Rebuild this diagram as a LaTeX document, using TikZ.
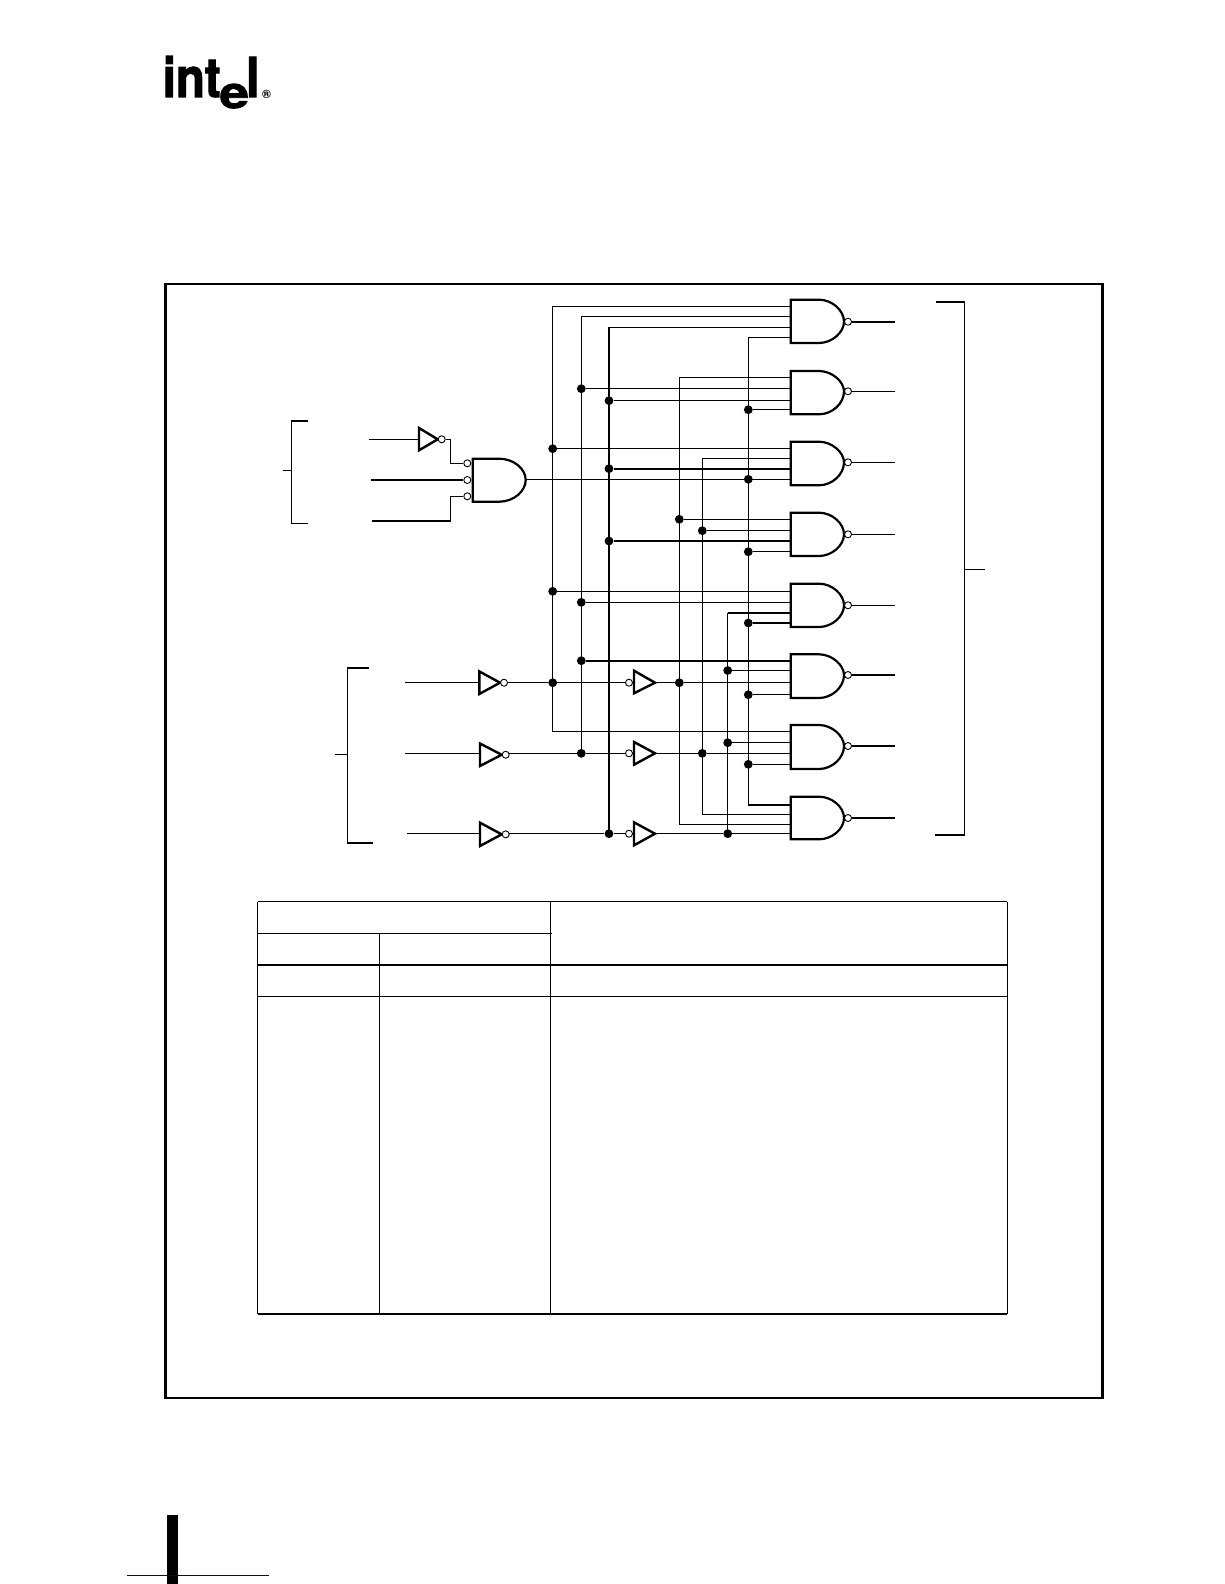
\documentclass[tikz,border=0pt]{standalone}
\usepackage{fontspec}
\setmainfont{TeX Gyre Heros}
\newfontfamily\logofont[FakeBold=2]{TeX Gyre Heros}
\definecolor{navyrule}{RGB}{0,0,128}
\tikzset{
  x=1pt,y=-1pt,
  wire/.style={line width=1.1pt,line cap=butt,line join=miter},
  thickwire/.style={line width=2pt,line join=miter},
  midwire/.style={line width=1.4pt,line join=miter},
  gatebody/.style={line width=2.2pt,line join=miter,fill=white},
  invbody/.style={line width=2.4pt,line join=miter,fill=white},
  bubble/.style={circle,draw,fill=white,line width=0.9pt,minimum size=7pt,inner sep=0pt},
  junction/.style={circle,fill=black,minimum size=8.8pt,inner sep=0pt},
  framerule/.style={line width=2.4pt,line join=miter},
  tablerule/.style={line width=1.1pt},
  tablethick/.style={line width=1.8pt}
}
% name, top y, bottom y, bubble y, pin y: a b c d
\newcommand{\nandgate}[8]{
  \draw[gatebody] (790.7,#2) -- (819,#2)
    .. controls (832,#2) and (844,{(#2+#3)/2-11}) .. (844,#4)
    .. controls (844,{(#2+#3)/2+11}) and (832,#3) .. (819,#3) -- (790.7,#3) -- cycle;
  \node[bubble] (#1n) at (848,#4) {};
  \coordinate (#1o) at (895,#4);
  \coordinate (#1a) at (790.7,#5);
  \coordinate (#1b) at (790.7,#6);
  \coordinate (#1c) at (790.7,#7);
  \coordinate (#1d) at (790.7,#8);
}
% name, left x, tip x, top y, bottom y, wire y
\newcommand{\invright}[6]{
  \draw[invbody] (#2,#4) -- (#3,{(#4+#5)/2}) -- (#2,#5) -- cycle;
  \coordinate (#1i) at (#2,#6);
  \node[bubble] (#1n) at ({#3+4},{(#4+#5)/2}) {};
  \coordinate (#1o) at ({#3+7.5},#6);
}
\begin{document}
\begin{tikzpicture}
\useasboundingbox (0,0) rectangle (1224,1584);

% logo
\node[anchor=base west,inner sep=0pt] (logo) at (162.6,97) {\logofont\bfseries\fontsize{55}{55}\selectfont\scalebox{0.86}[1]{int}\kern-1pt\raisebox{-11pt}{\fontsize{44}{44}\selectfont\scalebox{1.2}[1]{e}}\kern-3pt\scalebox{0.9}[1]{l}};
\node[inner sep=0pt] (reg) at (266.5,94.5) {\bfseries\fontsize{12}{12}\selectfont ®};

% page marks
\fill[black] (167,1515) rectangle (178,1584);
\draw[navyrule,line width=1.2pt] (127,1575.3) -- (269,1575.3);

% outer frame
\draw[framerule] (165.3,284) rectangle (1102.3,1397.7);

% table
\draw[tablerule] (257.7,901.7) -- (1007.3,901.7);
\draw[tablerule] (257.7,901.7) -- (257.7,1313.7);
\draw[tablerule] (1007.3,901.7) -- (1007.3,1313.7);
\draw[tablerule] (550.3,901.7) -- (550.3,1313.7);
\draw[tablerule] (379.3,933.3) -- (379.3,1313.7);
\draw[tablerule] (257.7,933.3) -- (551.7,933.3);
\draw[tablethick] (257.7,965) -- (1007.3,965);
\draw[tablerule] (257.7,996.5) -- (1007.3,996.5);
\draw[tablethick] (257.7,1313.7) -- (1007.3,1313.7);

% buses
\coordinate (busA) at (552.7,0);
\coordinate (busB) at (581.3,0);
\coordinate (busC) at (609,0);
\coordinate (busD) at (679.3,0);
\coordinate (busE) at (702.3,0);
\coordinate (busF) at (727.7,0);
\coordinate (busG) at (748.3,0);

\nandgate{g1}{299.7}{343}{321.7}{306.7}{316.7}{327.3}{337.3}
\nandgate{g2}{371}{414.3}{391.3}{377.3}{388.7}{400.7}{409.7}
\nandgate{g3}{441.7}{485.3}{462.3}{448.7}{458.3}{468.7}{479.3}
\nandgate{g4}{512.7}{556}{534.3}{519.3}{530.7}{541}{551.7}
\nandgate{g5}{583.7}{627}{605.3}{591.3}{602.3}{613}{623}
\nandgate{g6}{654.3}{698}{675}{660.7}{670.5}{682.7}{694.7}
\nandgate{g7}{725}{769}{746}{731.7}{742.7}{753.3}{764.3}
\nandgate{g8}{796.7}{839.3}{818}{805}{814.3}{824.7}{833.7}

% outputs
\draw[thickwire] (g1n) -- (g1o);
\draw[wire] (g2n) -- (g2o);
\draw[wire] (g3n) -- (g3o);
\draw[wire] (g4n) -- (g4o);
\draw[wire] (g5n) -- (g5o);
\draw[thickwire] (g6n) -- (g6o);
\draw[thickwire] (g7n) -- (g7o);
\draw[thickwire] (g8n) -- (g8o);

% decoder-side inverters
\invright{p}{479.3}{500}{671.4}{694}{682.7}
\invright{q}{480}{501.7}{743.5}{766}{753.3}
\invright{r}{480}{501.7}{822.7}{846}{833.7}
% complement inverters (bubble on the left)
\draw[invbody] (634,670.7) -- (655,682.7) -- (634,693.3) -- cycle;
\coordinate (ut) at (655,682.7);
\node[bubble] (un) at (629,682.7) {};
\draw[invbody] (634,742) -- (655,753.3) -- (634,764.7) -- cycle;
\coordinate (vt) at (655,753.3);
\node[bubble] (vn) at (629,753.3) {};
\draw[invbody] (634,822.3) -- (655,833.7) -- (634,845.3) -- cycle;
\coordinate (wt) at (655,833.7);
\node[bubble] (wn) at (629,833.7) {};

% junctions
\node[junction] (A1) at (busA |- g3a) {};
\node[junction] (A2) at (busA |- g5a) {};
\node[junction] (A3) at (busA |- g6c) {};
\node[junction] (B1) at (busB |- g2b) {};
\node[junction] (B2) at (busB |- g5b) {};
\node[junction] (B3) at (busB |- g6a) {};
\node[junction] (B4) at (busB |- g7c) {};
\node[junction] (C1) at (busC |- g2c) {};
\node[junction] (C2) at (busC |- g3c) {};
\node[junction] (C3) at (busC |- g4c) {};
\node[junction] (C4) at (busC |- g8d) {};
\node[junction] (D1) at (busD |- g4a) {};
\node[junction] (D2) at (busD |- g6c) {};
\node[junction] (E1) at (busE |- g4b) {};
\node[junction] (E2) at (busE |- g7c) {};
\node[junction] (F1) at (busF |- g6b) {};
\node[junction] (F2) at (busF |- g7b) {};
\node[junction] (F3) at (busF |- g8d) {};
\node[junction] (G1) at (busG |- g2d) {};
\node[junction] (G2) at (busG |- g3d) {};
\node[junction] (G3) at (busG |- g4d) {};
\node[junction] (G4) at (busG |- g5d) {};
\node[junction] (G5) at (busG |- g6d) {};
\node[junction] (G6) at (busG |- g7d) {};

% bus verticals with their gate legs
\draw[wire] (g1a) -- (busA |- g1a) -- (A1.center) -- (A2.center) -- (A3.center) -- (busA |- g7a) -- (g7a);
\draw[wire] (g1b) -- (busB |- g1b) -- (B1.center) -- (B2.center) -- (B3.center) -- (B4.center);
\draw[midwire] (g1c) -- (busC |- g1c);
\draw[thickwire] (busC |- g1c) -- (C1.center) -- (C2.center) -- (C3.center) -- (C4.center);
\draw[wire] (g2a) -- (busD |- g2a) -- (D1.center) -- (D2.center) -- (busD |- g8c) -- (g8c);
\draw[wire] (g3b) -- (busE |- g3b) -- (E1.center) -- (E2.center) -- (busE |- g8b) -- (g8b);
\draw[thickwire] (g5c) -- (busF |- g5c);
\draw[wire] (busF |- g5c) -- (F1.center) -- (F2.center) -- (F3.center);
\draw[wire] (g1d) -- (busG |- g1d) -- (G1.center) -- (G2.center) -- (G3.center) -- (G4.center) -- (G5.center) -- (G6.center) -- (busG |- g8a);
\draw[thickwire] (busG |- g8a) -- (g8a);

% gate stubs from junctions
\draw[wire] (A1) -- (g3a);
\draw[wire] (A2) -- (g5a);
\draw[wire] (B1) -- (g2b);
\draw[wire] (B2) -- (g5b);
\draw[thickwire] (B3) -- (g6a);
\draw[wire] (C1) -- (g2c);
\draw[thickwire] (C2) -- (g3c);
\draw[thickwire] (C3) -- (g4c);
\draw[wire] (D1) -- (g4a);
\draw[wire] (E1) -- (g4b);
\draw[wire] (F1) -- (g6b);
\draw[wire] (F2) -- (g7b);
\draw[wire] (F3) -- (g8d);
\draw[wire] (G1) -- (g2d);
\draw[wire] (G3) -- (g4d);
\draw[thickwire] (G4) -- (g5d);
\draw[wire] (G5) -- (g6d);
\draw[wire] (G6) -- (g7d);

% three-bit input lines
\coordinate (ain) at (405,682.7);
\coordinate (bin) at (405,753.3);
\coordinate (cin) at (407,833.7);
\draw[wire] (ain) -- (pi);
\draw[wire] (bin) -- (qi);
\draw[wire] (cin) -- (ri);
\draw[wire] (po) -- (A3);
\draw[wire] (A3) -- (un);
\draw[wire] (ut) -- (D2);
\draw[wire] (D2) -- (g6c);
\draw[wire] (qo) -- (B4);
\draw[wire] (B4) -- (vn);
\draw[wire] (vt) -- (E2);
\draw[wire] (E2) -- (g7c);
\draw[wire] (ro) -- (C4);
\draw[wire] (C4) -- (wn);
\draw[wire] (wt) -- (F3);

% enable inverter and three-input gate
\draw[invbody] (419,428) -- (437.7,439.3) -- (419,450.3) -- cycle;
\node[bubble] (en) at (441.7,439.3) {};
\coordinate (e1in) at (369,439.3);
\coordinate (e1i) at (419,439.3);
\draw[wire] (e1in) -- (e1i);
\draw[gatebody] (472.7,458.7) -- (499,458.7)
   .. controls (514,458.7) and (525.7,469) .. (525.7,480)
   .. controls (525.7,491) and (514,501.7) .. (499,501.7) -- (472.7,501.7) -- cycle;
\node[bubble] (ea) at (467.3,463.3) {};
\node[bubble] (eb) at (467.3,480) {};
\node[bubble] (ec) at (467.3,496.3) {};
\coordinate (e2in) at (371,480);
\coordinate (e3in) at (372,520.7);
\coordinate (eor) at (525.7,479.3);
\coordinate (ek1) at (450.3,463.3);
\coordinate (ek3) at (450.3,496.3);
\coordinate (ek3b) at (450.3,520.7);
\draw[wire] (en) -| (ek1) -- (ea);
\draw[thickwire] (e2in) -- (eb);
\draw[thickwire] (e3in) -- ([xshift=0.55pt]ek3b);
\draw[wire] (ek3b) -- (ek3) -- (ec);
\draw[wire] (eor) -- (g3d);

% brackets
\draw[wire] (291.7,421) -- (291.7,523.3) -- (307.7,523.3);
\draw[thickwire] (291.2,421) -- (307.7,421);
\draw[wire] (283.3,470.3) -- (291.7,470.3);
\draw[wire] (347.3,667.7) -- (347.3,843) -- (372.7,843);
\draw[thickwire] (346.8,667.7) -- (369,667.7);
\draw[wire] (335.3,754.3) -- (347.3,754.3);
\draw[wire] (964.3,301.7) -- (964.3,835);
\draw[thickwire] (936,301.7) -- (964.9,301.7);
\draw[thickwire] (935,835) -- (964.9,835);
\draw[wire] (964.3,569.3) -- (985,569.3);
\end{tikzpicture}
\end{document}
